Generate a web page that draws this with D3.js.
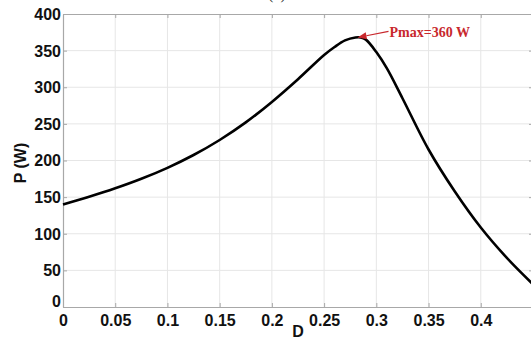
<!DOCTYPE html>
<html><head><meta charset="utf-8">
<script src="https://cdn.jsdelivr.net/npm/d3@7"></script>
<style>body{margin:0;background:#fff}svg{display:block}</style>
</head><body>
<svg id="c" width="531" height="340"></svg>
<script>
const D = [0,0.025,0.05,0.075,0.1,0.125,0.15,0.175,0.2,0.225,0.25,0.26,0.27,0.28,0.285,0.29,0.3,0.31,0.325,0.35,0.375,0.4,0.425,0.45];
const P = [140,150.5,162,175,190,207.5,228,252,280,311,344,355,364,368,368,365,348,326,285,215,158,108.5,67,31];
const xTicks = [0,0.05,0.1,0.15,0.2,0.25,0.3,0.35,0.4,0.45];
const xTickLabels = ["0","0.05","0.1","0.15","0.2","0.25","0.3","0.35","0.4",""];
const yTicks = [0,50,100,150,200,250,300,350,400];
const peakD = 0.282, peakP = 368;
const annText = "Pmax=360 W";

const svg = d3.select("#c");
const L = 63, R = 533, T = 14, B = 307;
const x = d3.scaleLinear().domain([0,0.45]).range([L,R]);
const y = d3.scaleLinear().domain([0,400]).range([B,T]);

// grid
const g = svg.append("g");
g.selectAll(".gx").data(xTicks.slice(1,-1)).enter().append("line")
  .attr("x1",d=>x(d)).attr("x2",d=>x(d)).attr("y1",T).attr("y2",B)
  .attr("stroke","#e6e6e6").attr("stroke-width",1);
g.selectAll(".gy").data(yTicks.slice(1,-1)).enter().append("line")
  .attr("x1",L).attr("x2",R).attr("y1",d=>y(d)).attr("y2",d=>y(d))
  .attr("stroke","#e6e6e6").attr("stroke-width",1);

// axes
const fontF = "'Liberation Sans', Arial, sans-serif";
const axB = svg.append("g").attr("transform",`translate(0,${B})`)
  .call(d3.axisBottom(x).tickValues(xTicks).tickFormat((d,i)=>xTickLabels[i]).tickSizeInner(-4).tickSizeOuter(0).tickPadding(8));
const axT = svg.append("g").attr("transform",`translate(0,${T})`)
  .call(d3.axisTop(x).tickValues(xTicks).tickFormat("").tickSizeInner(-4).tickSizeOuter(0));
const axLf = svg.append("g").attr("transform",`translate(${L},0)`)
  .call(d3.axisLeft(y).tickValues(yTicks).tickSizeInner(-4).tickSizeOuter(0).tickPadding(2));
const axRt = svg.append("g").attr("transform",`translate(${R},0)`)
  .call(d3.axisRight(y).tickValues(yTicks).tickFormat("").tickSizeInner(-4).tickSizeOuter(0));
[axB,axT,axLf,axRt].forEach(a=>{
  a.selectAll("path").attr("stroke","#a8a8a8").attr("stroke-width",1.2);
  a.selectAll("line").attr("stroke","#a8a8a8");
  a.selectAll("text").attr("fill","#111").style("font-family",fontF).style("font-weight","bold").style("font-size","16px");
});
axLf.selectAll(".tick").filter(d=>d===0).select("text").attr("dy","-0.05em");
axLf.selectAll(".tick").filter(d=>d!==0).select("text").attr("dy","0.34em");

// labels
svg.append("text").attr("x",298).attr("y",337).attr("text-anchor","middle")
  .style("font-family",fontF).style("font-weight","bold").style("font-size","16px").attr("fill","#111").text("D");
svg.append("text").attr("transform","translate(26,163) rotate(-90)").attr("text-anchor","middle")
  .style("font-family",fontF).style("font-weight","bold").style("font-size","16px").attr("fill","#111").text("P (W)");
svg.append("text").attr("x",277).attr("y",-1).attr("text-anchor","middle")
  .style("font-family","'Liberation Serif', serif").style("font-size","16px").attr("fill","#333").text("(a)");

// curve
const data = D.map((d,i)=>({d, p:P[i]}));
svg.append("path").datum(data)
  .attr("d", d3.line().x(v=>x(v.d)).y(v=>y(v.p)).curve(d3.curveCatmullRom.alpha(0.5)))
  .attr("fill","none").attr("stroke","#000").attr("stroke-width",2.6).attr("stroke-linejoin","round");

// annotation
const red = "#c8282d";
const tx = x(peakD), ty = y(peakP);
const sx = tx + 31, sy = ty - 6;
const ang = Math.atan2(sy-ty, sx-tx);
const hl = 9, hw = 3.5;
const bx = tx + hl*Math.cos(ang), by = ty + hl*Math.sin(ang);
svg.append("line").attr("x1",sx).attr("y1",sy).attr("x2",bx).attr("y2",by)
  .attr("stroke",red).attr("stroke-width",1.2);
svg.append("path").attr("d",`M${tx},${ty}L${bx - hw*Math.sin(ang)},${by + hw*Math.cos(ang)}L${bx + hw*Math.sin(ang)},${by - hw*Math.cos(ang)}Z`)
  .attr("fill",red);
svg.append("text").attr("x",sx+1).attr("y",ty).attr("fill",red)
  .style("font-family","'Liberation Serif', 'Times New Roman', serif").style("font-weight","bold").style("font-size","14px")
  .text(annText);
</script>
</body></html>
